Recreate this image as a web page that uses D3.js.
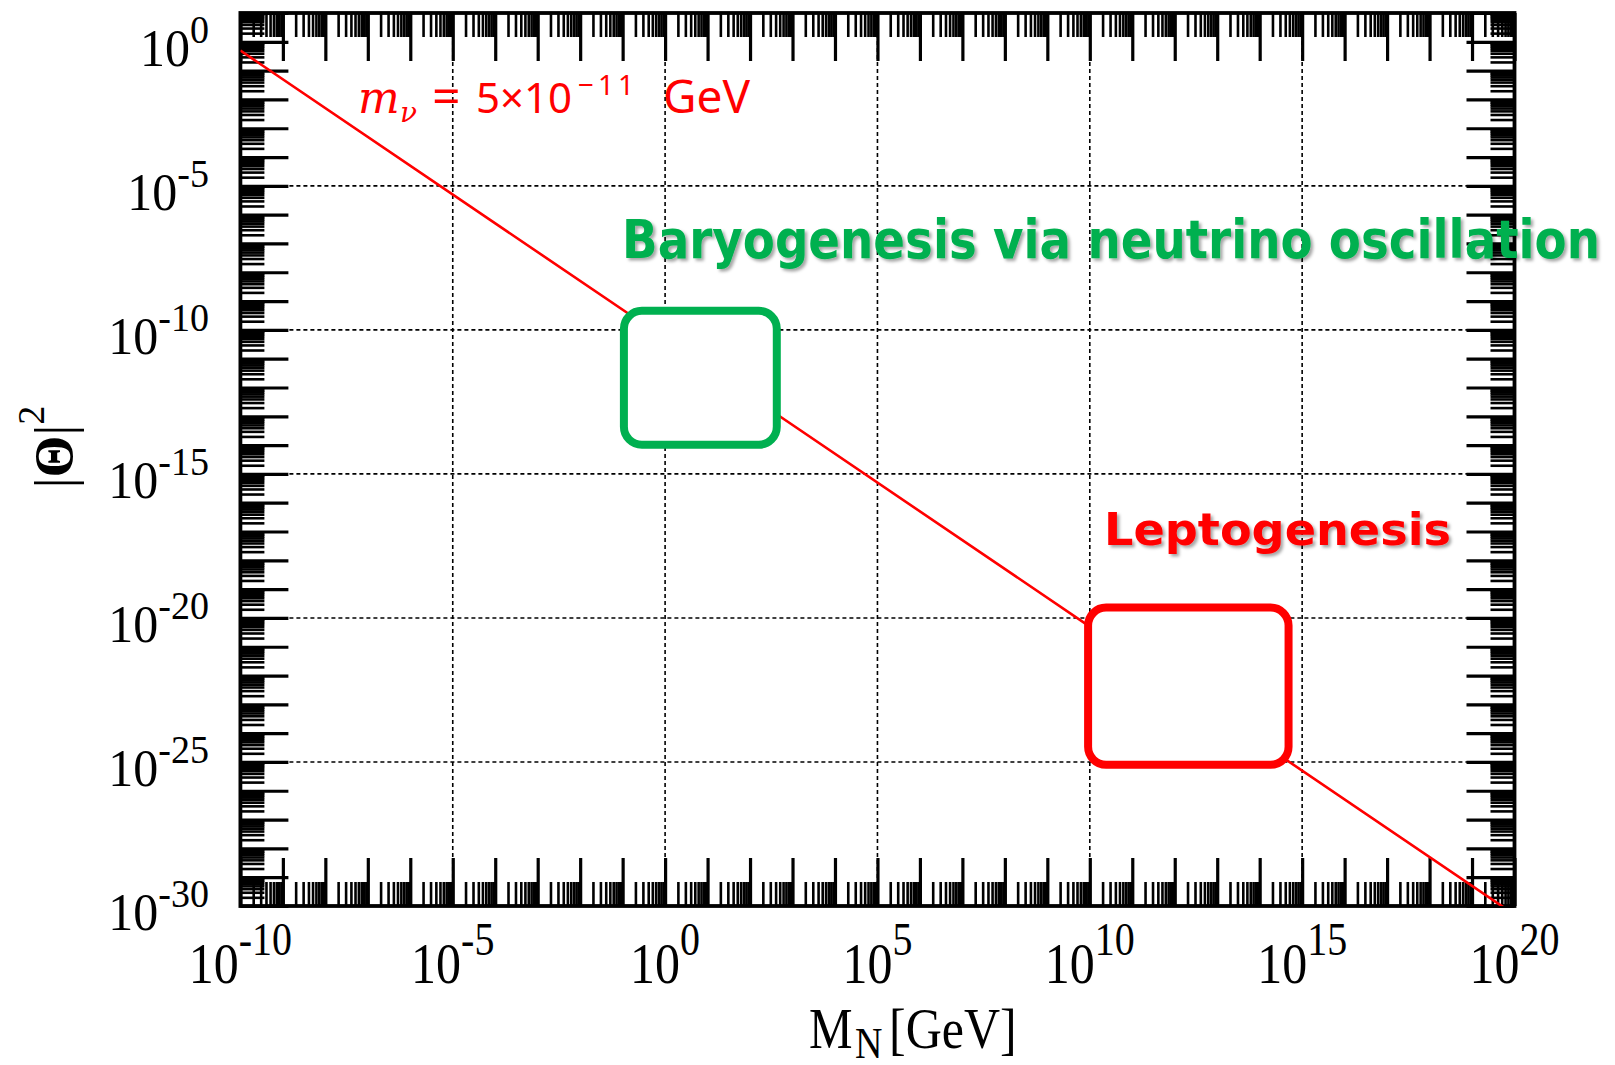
<!DOCTYPE html>
<html>
<head>
<meta charset="utf-8">
<script src="https://cdn.jsdelivr.net/npm/d3@7"></script>
<style>
  body { margin: 0; background: #fff; }
  svg { display: block; }
</style>
</head>
<body>
<div id="plot"></div>
<script>
// axis ranges (powers of ten)
var xDomain = [1e-10, 1e20];
var yDomain = [1e-30, 1e1];
var xLabelExps = [-10, -5, 0, 5, 10, 15, 20];
var yLabelExps = [0, -5, -10, -15, -20, -25, -30];
var xGridExps = [-5, 0, 5, 10, 15];
var yGridExps = [-5, -10, -15, -20, -25];

// seesaw line m_nu = 5e-11 GeV
var lineMass = [1e-10, 1e0, 1e10, 1e20];
var lineTheta2 = [5e-1, 5e-11, 5e-21, 5e-31];

// boxed regions
var regionNames = ["Baryogenesis via neutrino oscillation", "Leptogenesis"];
var regionColors = ["#00b050", "#ff0000"];
var regionMassLo = [Math.pow(10, -0.97), Math.pow(10, 9.96)];
var regionMassHi = [Math.pow(10, 2.63), Math.pow(10, 14.68)];
var regionThetaLo = [Math.pow(10, -13.99), Math.pow(10, -25.1)];
var regionThetaHi = [Math.pow(10, -9.34), Math.pow(10, -19.64)];

var W = 1615, H = 1065;
var pLeft = 240.4, pRight = 1514.5, pTop = 13, pBottom = 906;

var svg = d3.select("#plot").append("svg").attr("width", W).attr("height", H);
svg.append("rect").attr("width", W).attr("height", H).attr("fill", "#fff");

var defs = svg.append("defs");
var f = defs.append("filter").attr("id", "shadow").attr("x", "-5%").attr("y", "-20%").attr("width", "110%").attr("height", "150%");
f.append("feDropShadow").attr("dx", 2.5).attr("dy", 2.5).attr("stdDeviation", 1.5).attr("flood-color", "#000").attr("flood-opacity", 0.35);
defs.append("clipPath").attr("id", "clip").append("rect").attr("x", pLeft).attr("y", pTop).attr("width", pRight - pLeft).attr("height", pBottom - pTop);

var x = d3.scaleLog().domain(xDomain).range([pLeft, pRight]);
var y = d3.scaleLog().domain(yDomain).range([pBottom, pTop]);

// grid
var grid = svg.append("g").attr("stroke", "#000").attr("stroke-width", 1.6).attr("stroke-dasharray", "4,3");
grid.selectAll("line.gx").data(xGridExps).enter().append("line")
  .attr("x1", function(d) { return x(Math.pow(10, d)); }).attr("x2", function(d) { return x(Math.pow(10, d)); })
  .attr("y1", pTop).attr("y2", pBottom);
grid.selectAll("line.gy").data(yGridExps).enter().append("line")
  .attr("y1", function(d) { return y(Math.pow(10, d)); }).attr("y2", function(d) { return y(Math.pow(10, d)); })
  .attr("x1", pLeft).attr("x2", pRight);

// ticks
function decades(lo, hi) { var a = []; for (var e = lo; e <= hi; e++) a.push(Math.pow(10, e)); return a; }
function minors(lo, hi) { var a = []; for (var e = lo; e < hi; e++) for (var m = 2; m <= 9; m++) a.push(m * Math.pow(10, e)); return a; }
var xMajor = decades(-10, 20), xMinor = minors(-10, 20);
var yMajor = decades(-30, 1), yMinor = minors(-30, 1);

function tickAxis(axis, vals, len, w, tr) {
  var g = svg.append("g").attr("transform", tr)
    .call(axis.tickValues(vals).tickSizeInner(-len).tickSizeOuter(0).tickFormat(""));
  g.select(".domain").remove();
  g.selectAll(".tick text").remove();
  g.selectAll(".tick line").attr("stroke", "#000").attr("stroke-width", w);
}
tickAxis(d3.axisBottom(x), xMinor, 24, 2.6, "translate(0," + pBottom + ")");
tickAxis(d3.axisBottom(x), xMajor, 48, 3.2, "translate(0," + pBottom + ")");
tickAxis(d3.axisTop(x), xMinor, 24, 2.6, "translate(0," + pTop + ")");
tickAxis(d3.axisTop(x), xMajor, 48, 3.2, "translate(0," + pTop + ")");
tickAxis(d3.axisLeft(y), yMinor, 24, 2.6, "translate(" + pLeft + ",0)");
tickAxis(d3.axisLeft(y), yMajor, 48, 3.2, "translate(" + pLeft + ",0)");
tickAxis(d3.axisRight(y), yMinor, 24, 2.6, "translate(" + pRight + ",0)");
tickAxis(d3.axisRight(y), yMajor, 48, 3.2, "translate(" + pRight + ",0)");

// frame
svg.append("rect").attr("x", pLeft).attr("y", pTop).attr("width", pRight - pLeft).attr("height", pBottom - pTop)
  .attr("fill", "none").attr("stroke", "#000").attr("stroke-width", 3.8);

// seesaw line
svg.append("path")
  .datum(lineMass.map(function(m, i) { return [m, lineTheta2[i]]; }))
  .attr("clip-path", "url(#clip)")
  .attr("d", d3.line().x(function(d) { return x(d[0]); }).y(function(d) { return y(d[1]); }))
  .attr("fill", "none").attr("stroke", "#ff0000").attr("stroke-width", 2.6);

// regions
svg.selectAll("rect.region").data(regionNames).enter().append("rect")
  .attr("x", function(d, i) { return x(regionMassLo[i]); })
  .attr("y", function(d, i) { return y(regionThetaHi[i]); })
  .attr("width", function(d, i) { return x(regionMassHi[i]) - x(regionMassLo[i]); })
  .attr("height", function(d, i) { return y(regionThetaLo[i]) - y(regionThetaHi[i]); })
  .attr("rx", 18).attr("ry", 18)
  .attr("fill", "#fff").attr("stroke", function(d, i) { return regionColors[i]; }).attr("stroke-width", 8);

// region labels
var labelPos = [[622, 258, 978, 54], [1104, 545, 347, 44]];
regionNames.forEach(function(name, i) {
  svg.append("text").attr("x", labelPos[i][0]).attr("y", labelPos[i][1])
    .attr("textLength", labelPos[i][2]).attr("lengthAdjust", "spacingAndGlyphs")
    .attr("font-family", "DejaVu Sans").attr("font-weight", "bold").attr("font-size", labelPos[i][3])
    .attr("fill", regionColors[i]).attr("filter", "url(#shadow)").text(name);
});

// m_nu annotation
var mt = svg.append("text").attr("fill", "#ff0000");
mt.append("tspan").attr("x", 358).attr("y", 113).attr("font-family", "DejaVu Serif").attr("font-style", "italic").attr("font-size", 44).text("m");
mt.append("tspan").attr("x", 400).attr("y", 122).attr("font-family", "DejaVu Serif").attr("font-style", "italic").attr("font-size", 28).text("ν");
mt.append("tspan").attr("x", 432).attr("y", 114).attr("font-family", "Noto Sans").attr("font-size", 50).text("=");
mt.append("tspan").attr("x", 476).attr("y", 113).attr("font-family", "Noto Sans").attr("font-size", 42).text("5×10");
mt.append("tspan").attr("x", 578).attr("y", 95).attr("font-family", "Noto Sans").attr("font-size", 28).attr("letter-spacing", 4).text("−11");
mt.append("tspan").attr("x", 663).attr("y", 113).attr("font-family", "Noto Sans").attr("font-size", 46).text("GeV");

// tick labels
var serif = "Liberation Serif, Times New Roman, serif";
xLabelExps.forEach(function(e) {
  var t = svg.append("text").attr("transform", "translate(" + x(Math.pow(10, e)) + ",982.7) scale(1,1.15)")
    .attr("text-anchor", "middle").attr("font-family", serif).attr("font-size", 50);
  t.append("tspan").text("10");
  t.append("tspan").attr("dy", -24).attr("font-size", 40).text(String(e));
});
yLabelExps.forEach(function(e) {
  var t = svg.append("text").attr("transform", "translate(209," + (y(Math.pow(10, e)) + 24) + ") scale(1,1.05)")
    .attr("text-anchor", "end").attr("font-family", serif).attr("font-size", 50);
  t.append("tspan").text("10");
  t.append("tspan").attr("dy", -22).attr("font-size", 38).text(String(e));
});

// axis titles
var xt = svg.append("text").attr("transform", "translate(809,1048) scale(1,1.15)")
  .attr("font-family", serif).attr("font-size", 49);
xt.append("tspan").attr("x", 0).text("M");
xt.append("tspan").attr("x", 46).attr("dy", 9).attr("font-size", 38).text("N");
xt.append("tspan").attr("x", 80).attr("dy", -9).attr("font-size", 50).text("[GeV]");

var yt = svg.append("text").attr("transform", "translate(72,447) rotate(-90)")
  .attr("text-anchor", "middle").attr("font-family", serif).attr("font-size", 54);
yt.append("tspan").text("|");
yt.append("tspan").attr("font-weight", "bold").text("Θ");
yt.append("tspan").text("|");
yt.append("tspan").attr("dy", -28).attr("font-size", 38).text("2");
</script>
</body>
</html>
